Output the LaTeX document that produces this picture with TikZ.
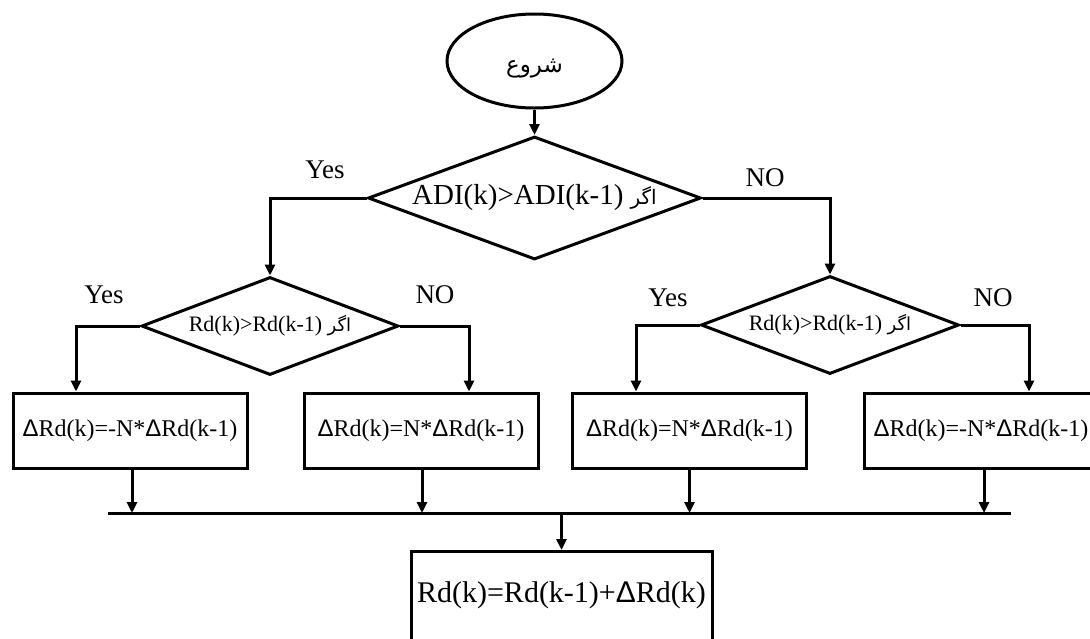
\documentclass[tikz,border=0pt]{standalone}
\usepackage{fontspec}
\setmainfont{Liberation Serif}
\newfontfamily\arabicfont[Script=Arabic]{DejaVu Sans}
\newfontfamily\deltafont{Liberation Sans}
\TeXXeTstate=1
\usetikzlibrary{shapes.geometric,arrows.meta}
\newcommand{\Dl}{{\deltafont Δ}}
\newcommand{\agar}{{\arabicfont\fontsize{18}{20}\selectfont\beginR اگر\endR}}
\begin{document}
\begin{tikzpicture}[x=1pt,y=-1pt,
  every node/.style={inner sep=0pt},
  ln/.style={line width=3pt},
  arr/.style={ln,-{Triangle[length=11pt,width=10pt]}},
  dia/.style={draw,ln,diamond},
  boxn/.style={draw,ln,rectangle,minimum width=234pt,minimum height=75pt,font=\fontsize{24}{28}\selectfont},
  lab/.style={font=\fontsize{27}{30}\selectfont}
]
\useasboundingbox (0,0) rectangle (1090,638);
\clip (0,0) rectangle (1090,638);
\node[draw,ln,ellipse,minimum width=175pt,minimum height=94pt,font=\arabicfont\fontsize{23}{28}\selectfont] (start) at (534.5,61) {\raisebox{-8pt}[\height][\depth]{\beginR شروع\endR}};
\node[dia,aspect=2.71,minimum width=333pt,minimum height=123pt,font=\fontsize{29}{32}\selectfont] (d1) at (534.5,198) {ADI(k)>ADI(k-1)\ {\arabicfont\fontsize{20}{24}\selectfont\beginR اگر\endR}};
\node[dia,aspect=2.62,minimum width=257pt,minimum height=98pt,font=\fontsize{22}{24}\selectfont] (d2l) at (270,326) {Rd(k)>Rd(k-1)\ \agar};
\node[dia,aspect=2.62,minimum width=258pt,minimum height=98pt,font=\fontsize{22}{24}\selectfont] (d2r) at (830,325) {Rd(k)>Rd(k-1)\ \agar};
\node[boxn] (b1) at (130,430.5) {\Dl Rd(k)=-N*\Dl Rd(k-1)};
\node[boxn] (b2) at (421,430.5) {\Dl Rd(k)=N*\Dl Rd(k-1)};
\node[boxn] (b3) at (689.5,430.5) {\Dl Rd(k)=N*\Dl Rd(k-1)};
\node[boxn] (b4) at (981,430.5) {\Dl Rd(k)=-N*\Dl Rd(k-1)};
\node[draw,ln,rectangle,anchor=north,minimum width=301pt,text height=51pt,text depth=60pt,font=\fontsize{30}{34}\selectfont] (fin) at (561.5,550) {Rd(k)=Rd(k-1)+\Dl Rd(k)};
\coordinate (busL) at (108,513);
\coordinate (busR) at (1011,513);
\draw[ln] (busL) -- (busR);
\draw[arr] (start) -- (d1);
\draw[arr] (d1.west) -| (d2l.north);
\draw[arr] (d1.east) -| (d2r.north);
\draw[arr] (d2l.west) -| ([xshift=-54pt]b1.north);
\draw[arr] (d2l.east) -| ([xshift=48pt]b2.north);
\draw[arr] (d2r.west) -| ([xshift=-53.5pt]b3.north);
\draw[arr] (d2r.east) -| ([xshift=48pt]b4.north);
\draw[arr] ([xshift=2pt]b1.south) -- ([xshift=2pt]b1.south |- busL);
\draw[arr] ([xshift=1pt]b2.south) -- ([xshift=1pt]b2.south |- busL);
\draw[arr] (b3.south) -- (b3.south |- busL);
\draw[arr] ([xshift=3pt]b4.south) -- ([xshift=3pt]b4.south |- busL);
\draw[arr] (fin.north |- busL) -- (fin.north);
\node[lab] (yes1) at (325,170) {Yes};
\node[lab] (no1) at (765,178) {NO};
\node[lab] (yes2) at (104,295) {Yes};
\node[lab] (no2) at (435,295) {NO};
\node[lab] (yes3) at (668,298) {Yes};
\node[lab] (no3) at (993,298) {NO};
\end{tikzpicture}
\end{document}
